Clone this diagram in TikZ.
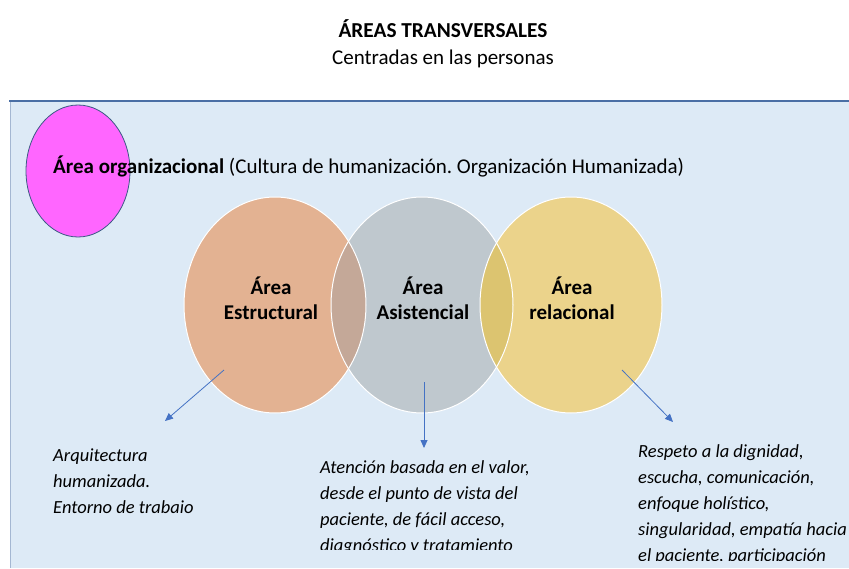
\documentclass[tikz,border=0pt]{standalone}
\usepackage{fontspec}
\setmainfont{Carlito}
\usepackage{tikz}
\usetikzlibrary{arrows.meta}
\usepackage{xcolor}
\definecolor{fondo}{HTML}{DDEAF6}
\definecolor{linea}{HTML}{4A6FA5}
\definecolor{flecha}{HTML}{4472C4}
\definecolor{magenta1}{HTML}{FF66FF}
\definecolor{durazno}{HTML}{E3B292}
\definecolor{gris}{HTML}{BFC8CE}
\definecolor{amarillo}{HTML}{EBD38B}
\definecolor{mezclaA}{HTML}{C4A898}
\definecolor{mezclaB}{HTML}{DCC470}
\frenchspacing

\begin{document}
\begin{tikzpicture}[x=1pt, y=-1pt,
    titulo/.style={font=\fontsize{21.3}{25}\selectfont\bfseries, inner sep=0pt, anchor=base},
    etiqueta/.style={font=\fontsize{21}{25}\selectfont\bfseries, align=center, inner sep=0pt},
    texto/.style={font=\fontsize{18.5}{26.2}\selectfont\itshape, align=left, inner sep=0pt, anchor=base west},
    conector/.style={flecha, line width=0.8pt, -{Triangle[length=8pt,width=7pt]}}]
    \useasboundingbox (0,0) rectangle (849,568);
    \fill[white] (0,0) rectangle (849,568);

    % titulo
    \node[titulo] (tit) at (443,37) {ÁREAS TRANSVERSALES};
    \node[titulo, font=\fontsize{21}{25}\selectfont] (sub) at (443,64) {Centradas en las personas};

    % fondo
    \fill[fondo] (10,101) rectangle (849,568);
    \draw[linea!50, line width=0.6pt] (10,101) -- (10,568);
    \draw[linea, line width=1.3pt] (9,101) -- (849,101);

    % area organizacional
    \draw[fill=magenta1, draw=linea!80!black, line width=0.8pt] (78,171) ellipse [x radius=52, y radius=66];
    \node[inner sep=0pt, anchor=base west, font=\fontsize{21}{25}\selectfont] (org) at (53,173)
        {\textbf{Área organizacional} (Cultura de humanización. Organización Humanizada)};

    % las tres areas
    \fill[durazno] (275,305) ellipse [x radius=91, y radius=108];
    \fill[gris] (422,305) ellipse [x radius=91, y radius=108];
    \fill[amarillo] (571,305) ellipse [x radius=91, y radius=108];
    \begin{scope}
        \clip (275,305) ellipse [x radius=91, y radius=108];
        \fill[mezclaA] (422,305) ellipse [x radius=91, y radius=108];
    \end{scope}
    \begin{scope}
        \clip (422,305) ellipse [x radius=91, y radius=108];
        \fill[mezclaB] (571,305) ellipse [x radius=91, y radius=108];
    \end{scope}
    \foreach \cx in {275,422,571}
        \draw[white, line width=1pt] (\cx,305) ellipse [x radius=91, y radius=108];

    \node[etiqueta] (est) at (271,298) {Área\\Estructural};
    \node[etiqueta] (asi) at (423,298) {Área\\Asistencial};
    \node[etiqueta] (rel) at (572,298) {Área\\relacional};

    % textos (base = ultima linea)
    \node[texto] (t1) at (53,513.4) {Arquitectura\\humanizada.\\Entorno de trabaio};
    \begin{scope}
        \clip (300,440) rectangle (620,549);
        \node[texto] (t2) at (320,551.6) {Atención basada en el valor,\\desde el punto de vista del\\paciente, de fácil acceso,\\diagnóstico y tratamiento};
    \end{scope}
    \begin{scope}
        \clip (620,430) rectangle (849,560);
        \node[texto] (t3) at (638,561.8) {Respeto a la dignidad,\\escucha, comunicación,\\enfoque holístico,\\singularidad, empatía hacia\\el paciente, participación};
    \end{scope}

    % flechas
    \coordinate (a1) at (224,370);
    \coordinate (b1) at (165,421);
    \coordinate (a2) at (424,382);
    \coordinate (b2) at (424,448);
    \coordinate (a3) at (622,370);
    \coordinate (b3) at (673,422);
    \draw[conector] (a1) -- (b1);
    \draw[conector] (a2) -- (b2);
    \draw[conector] (a3) -- (b3);
\end{tikzpicture}
\end{document}
